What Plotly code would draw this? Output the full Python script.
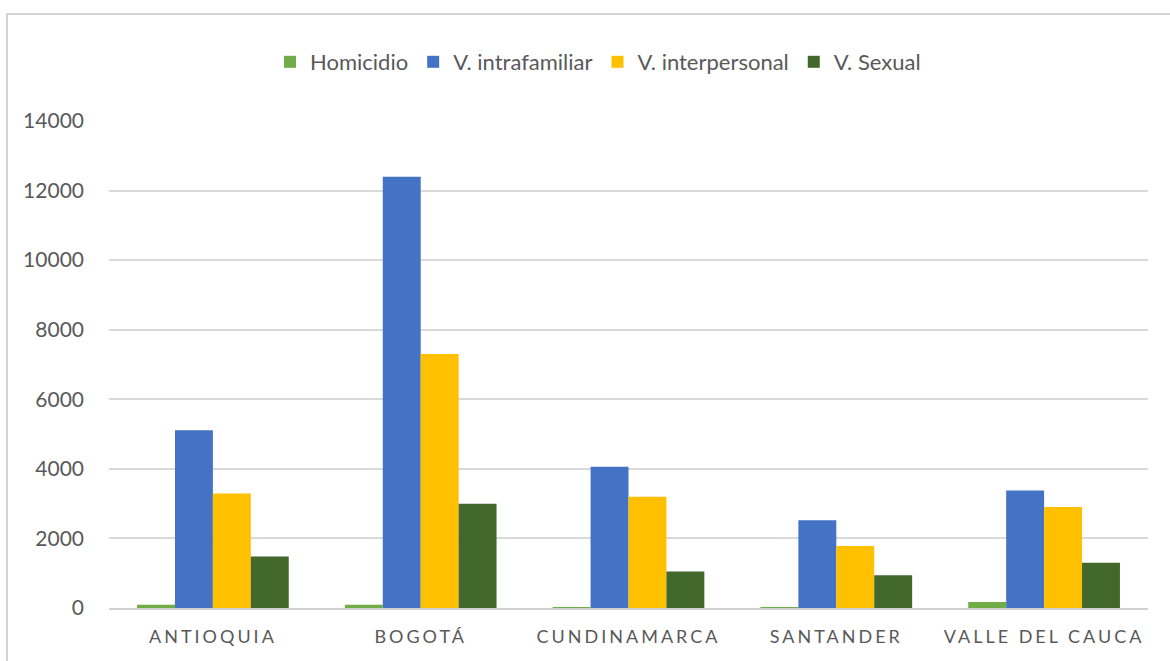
import plotly.graph_objects as go

categories = ["ANTIOQUIA", "BOGOTÁ", "CUNDINAMARCA", "SANTANDER", "VALLE DEL CAUCA"]
homicidio = [95, 95, 25, 25, 170]
intrafamiliar = [5110, 12400, 4060, 2520, 3380]
interpersonal = [3290, 7300, 3200, 1780, 2900]
sexual = [1480, 3000, 1050, 940, 1300]
y_ticks = [0, 2000, 4000, 6000, 8000, 10000, 12000, 14000]

series = [
    ("Homicidio", homicidio, "#70AD47"),
    ("V. intrafamiliar", intrafamiliar, "#4472C4"),
    ("V. interpersonal", interpersonal, "#FFC000"),
    ("V. Sexual", sexual, "#43682B"),
]

fig = go.Figure()
for name, vals, color in series:
    fig.add_trace(go.Bar(x=categories, y=vals, name=name,
                         marker=dict(color=color, line=dict(width=0))))

W, H = 1170, 661
L, R, T, B = 109, 22, 121, 53
pw, ph = W - L - R, H - T - B
FONT = "Lato, Open Sans, sans-serif"

fig.update_layout(
    width=W, height=H,
    margin=dict(l=L, r=R, t=T, b=B, autoexpand=False),
    paper_bgcolor="white", plot_bgcolor="white",
    barmode="group", bargap=0.27, bargroupgap=0,
    font=dict(family=FONT, color="#595959", size=21),
    legend=dict(orientation="h", x=(598 - L) / pw, xanchor="center",
                y=(H - B - 62) / ph, yanchor="middle",
                font=dict(family=FONT, size=22, color="#595959"), itemwidth=30,
                traceorder="normal", bgcolor="rgba(0,0,0,0)"),
    xaxis=dict(showgrid=False, showline=True, linecolor="#D0D0D0", linewidth=2,
               ticks="", tickfont=dict(family=FONT, size=18, color="#595959"),
               ticklabelstandoff=11),
    yaxis=dict(range=[0, 14000], tickvals=y_ticks, tickformat="d",
               showgrid=True, gridcolor="#D9D9D9", gridwidth=1.5,
               zeroline=False, showline=False, ticks="",
               tickfont=dict(family=FONT, size=21, color="#595959"),
               ticklabelstandoff=24),
    shapes=[dict(type="rect", xref="paper", yref="paper",
                 x0=(7 - L) / pw, x1=(W + 20 - L) / pw,
                 y0=(H - B - (H + 20)) / ph, y1=(H - B - 14) / ph,
                 line=dict(color="#C8C8C8", width=1.5),
                 fillcolor="rgba(0,0,0,0)", layer="below")],
)

post = """
document.body.style.margin='0';
document.body.style.overflow='hidden';
function sp(){document.querySelectorAll('.xtick text').forEach(function(t){t.style.letterSpacing='3px';});}
sp(); var gd=document.getElementsByClassName('plotly-graph-div')[0]; if(gd&&gd.on){gd.on('plotly_afterplot', sp);}
"""
fig.write_html("out.html", post_script=post, config={"displayModeBar": False})
